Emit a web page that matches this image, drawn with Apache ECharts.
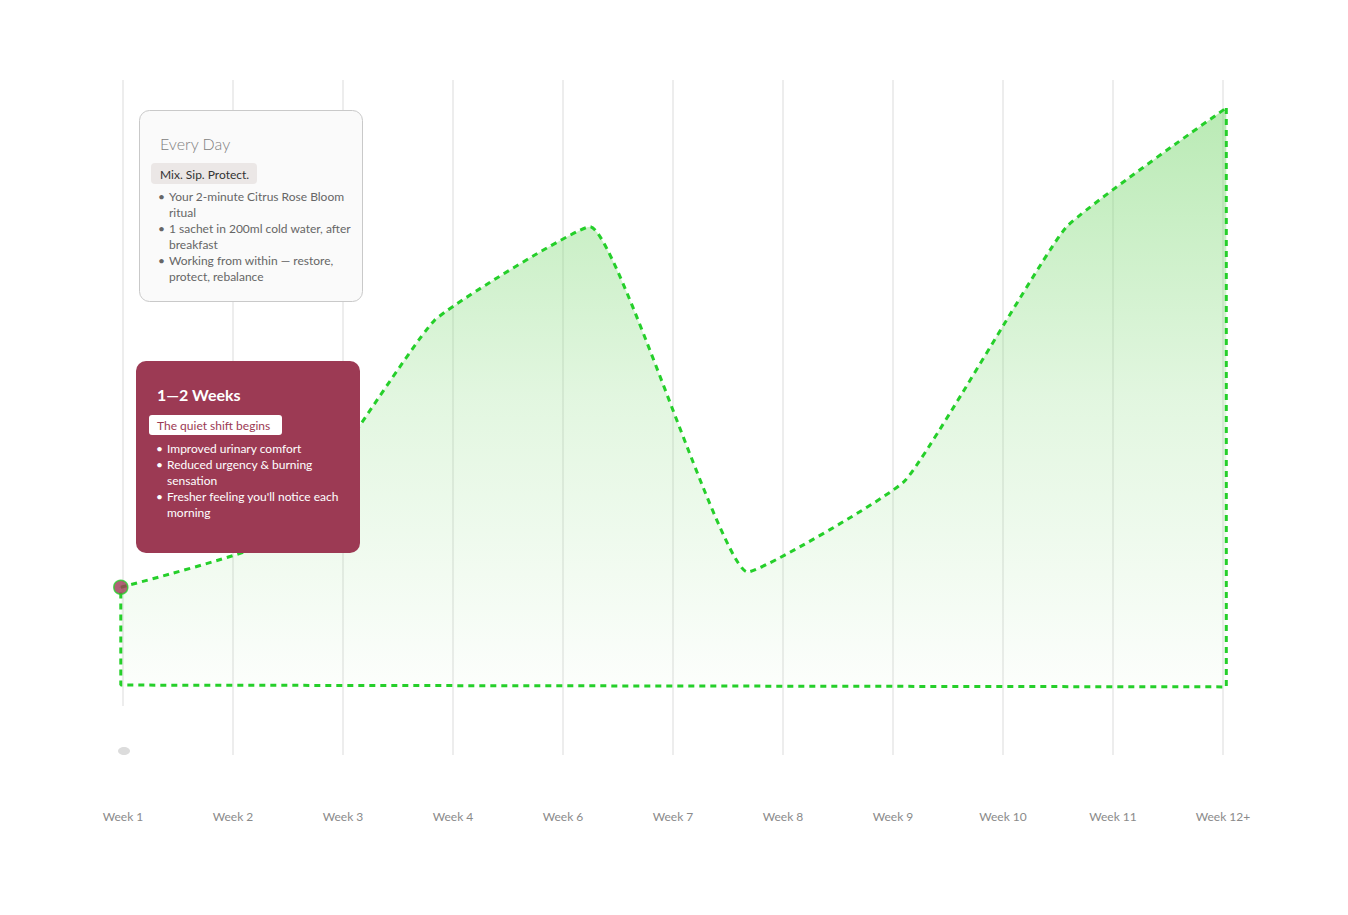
<!DOCTYPE html>
<html>
<head>
<meta charset="utf-8">
<title>Progress timeline</title>
<script src="https://cdn.jsdelivr.net/npm/echarts@6/dist/echarts.min.js"></script>
<style>
  html, body { margin: 0; padding: 0; background: #fff; }
  #chart { width: 1348px; height: 915px; }
</style>
</head>
<body>
<div id="chart"></div>
<script>
// week labels on the x axis
const weeks = ['Week 1', 'Week 2', 'Week 3', 'Week 4', 'Week 6', 'Week 7', 'Week 8', 'Week 9', 'Week 10', 'Week 11', 'Week 12+'];

// curve vertices, x in week-slot units, y in % of the chart height above the baseline
const curveX = [-0.02, 1.41, 2.83, 4.245, 5.68, 7.11, 8.57, 10.03];
const curveY = [16.3, 24.4, 60.3, 75.8, 18.8, 33.9, 75.6, 95.4];
const baseLeft = 0.15;
const baseRight = -0.15;

const green = '#25cf2a';
const maroon = '#9c3a54';
const font = 'Lato, "Noto Sans", sans-serif';

const curve = curveX.map((x, i) => [x, curveY[i]]);
const frame = [
  [curveX[7], curveY[7]],
  [curveX[7], baseRight],
  [curveX[0], baseLeft],
  [curveX[0], curveY[0]],
];

const chart = echarts.init(document.getElementById('chart'), null, { renderer: 'svg' });

// small helper for the text lines in the cards
function txt(text, x, y, size, color, weight) {
  return {
    type: 'text',
    z: 110,
    style: {
      text,
      x,
      y,
      fontSize: size,
      fontFamily: font,
      fontWeight: weight || 400,
      fill: color,
      verticalAlign: 'middle',
    },
  };
}

const card1Lines = [
  ['•', 'Your 2-minute Citrus Rose Bloom'],
  ['', 'ritual'],
  ['•', '1 sachet in 200ml cold water, after'],
  ['', 'breakfast'],
  ['•', 'Working from within — restore,'],
  ['', 'protect, rebalance'],
];
const card2Lines = [
  ['•', 'Improved urinary comfort'],
  ['•', 'Reduced urgency & burning'],
  ['', 'sensation'],
  ['•', "Fresher feeling you'll notice each"],
  ['', 'morning'],
];

const graphics = [
  // Week 1 guide stops short, with a small handle under it
  { type: 'rect', z: 5, shape: { x: 119, y: 706, width: 9, height: 52 }, style: { fill: '#fff' } },
  { type: 'ellipse', z: 6, shape: { cx: 124, cy: 751, rx: 6, ry: 4 }, style: { fill: '#dcdcdc' } },

  // card: Every Day
  {
    type: 'rect', z: 100,
    shape: { x: 139.5, y: 110.5, width: 223, height: 191, r: 10 },
    style: { fill: '#fafafa', stroke: '#c9c9c9', lineWidth: 1 },
  },
  txt('Every Day', 160, 143, 16, '#808080', 300),
  {
    type: 'rect', z: 105,
    shape: { x: 151, y: 163, width: 106, height: 21, r: 4 },
    style: { fill: '#ebe7e6' },
  },
  txt('Mix. Sip. Protect.', 160, 174, 12, '#333'),

  // card: 1—2 Weeks
  {
    type: 'rect', z: 100,
    shape: { x: 136, y: 361, width: 224, height: 192, r: 10 },
    style: { fill: maroon },
  },
  txt('1—2 Weeks', 157, 394, 16, '#fff', 700),
  {
    type: 'rect', z: 105,
    shape: { x: 149, y: 415, width: 133, height: 20, r: 3 },
    style: { fill: '#fff' },
  },
  txt('The quiet shift begins', 157, 425, 12, maroon),
];

card1Lines.forEach((l, i) => {
  if (l[0]) graphics.push(txt(l[0], 158, 196 + i * 16, 12, '#666'));
  graphics.push(txt(l[1], 169, 196 + i * 16, 12, '#666'));
});
card2Lines.forEach((l, i) => {
  if (l[0]) graphics.push(txt(l[0], 156, 448 + i * 16, 12, '#fff'));
  graphics.push(txt(l[1], 167, 448 + i * 16, 12, '#fff'));
});

chart.setOption({
  animation: false,
  backgroundColor: '#fff',
  grid: [
    { left: 123, right: 125, top: 80, bottom: 160 },
    { left: 120.8, right: 121.7, top: 80, bottom: 227.2 },
  ],
  xAxis: [
    {
      type: 'category',
      gridIndex: 0,
      data: weeks,
      boundaryGap: false,
      axisLine: { show: false },
      axisTick: { show: false },
      axisLabel: { color: '#8a8a8a', fontSize: 12, fontFamily: font, fontWeight: 400, margin: 55 },
      splitLine: { show: true, lineStyle: { color: '#ededed', width: 2 } },
    },
    {
      type: 'value',
      gridIndex: 1,
      min: curveX[0],
      max: curveX[7],
      show: false,
    },
  ],
  yAxis: [
    { type: 'value', gridIndex: 0, min: 0, max: 100, show: false },
    { type: 'value', gridIndex: 1, min: -0.3, max: 100, show: false },
  ],
  series: [
    {
      name: 'curve',
      type: 'line',
      xAxisIndex: 1,
      yAxisIndex: 1,
      data: curve,
      smooth: 0.12,
      symbol: 'none',
      clip: false,
      z: 3,
      lineStyle: { color: green, width: 3, type: [6, 5] },
      areaStyle: {
        origin: 'start',
        color: new echarts.graphic.LinearGradient(0, 0, 0, 1, [
          { offset: 0, color: 'rgba(118,214,108,0.72)' },
          { offset: 0.5, color: 'rgba(118,214,108,0.3)' },
          { offset: 1, color: 'rgba(118,214,108,0.03)' },
        ]),
      },
    },
    {
      name: 'frame',
      type: 'line',
      xAxisIndex: 1,
      yAxisIndex: 1,
      data: frame,
      symbol: 'none',
      clip: false,
      z: 3,
      lineStyle: { color: green, width: 3, type: [6, 5] },
    },
    {
      name: 'start',
      type: 'scatter',
      xAxisIndex: 1,
      yAxisIndex: 1,
      data: [curve[0]],
      symbolSize: 14,
      clip: false,
      z: 4,
      itemStyle: { color: maroon, borderColor: green, borderWidth: 1.5 },
    },
  ],
  graphic: graphics,
});
</script>
</body>
</html>
